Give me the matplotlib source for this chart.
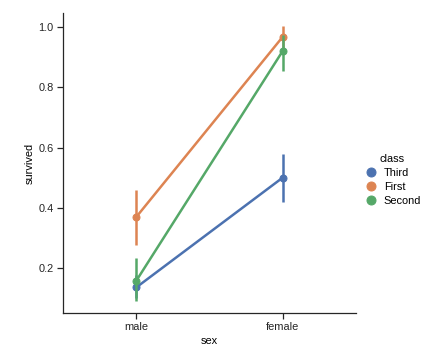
import matplotlib
matplotlib.use("Agg")
import matplotlib.pyplot as plt
from matplotlib.lines import Line2D
import numpy as np

# titanic survival rate by sex and class, with 95% CI
sexes = ["male", "female"]
classes = ["Third", "First", "Second"]
colors = ["#4C72B0", "#DD8452", "#55A868"]
means = {
    "Third": [0.135, 0.500],
    "First": [0.369, 0.968],
    "Second": [0.157, 0.921],
}
ci_low = {
    "Third": [0.100, 0.420],
    "First": [0.276, 0.925],
    "Second": [0.090, 0.855],
}
ci_high = {
    "Third": [0.175, 0.580],
    "First": [0.458, 1.003],
    "Second": [0.234, 0.975],
}

plt.rcParams["font.family"] = ["Liberation Sans", "DejaVu Sans"]
plt.rcParams["font.size"] = 11

fig = plt.figure(figsize=(436 / 72, 360 / 72), dpi=72)
ax = fig.add_axes([63 / 436, 1 - 313 / 360, 293 / 436, 300 / 360])

x = np.arange(len(sexes))
for cls, col in zip(classes, colors):
    m = np.array(means[cls])
    lo = np.array(ci_low[cls])
    hi = np.array(ci_high[cls])
    ax.plot(x, m, color=col, lw=2.5, marker="o", ms=7, zorder=3)
    ax.vlines(x, lo, hi, color=col, lw=2.5, zorder=3)

ax.set_xticks(x)
ax.set_xticklabels(sexes)
ax.set_xlim(-0.5, 1.5)
ax.set_ylim(0.05, 1.047)
ax.set_yticks([0.2, 0.4, 0.6, 0.8, 1.0])
ax.set_xlabel("sex", fontsize=11)
ax.set_ylabel("survived", fontsize=11)
ax.spines["top"].set_visible(False)
ax.spines["right"].set_visible(False)
for s in ["left", "bottom"]:
    ax.spines[s].set_linewidth(1.25)
    ax.spines[s].set_color("#262626")
ax.tick_params(direction="out", length=6, width=1.25, colors="#262626", labelsize=11)

handles = [Line2D([], [], color=c, marker="o", ls="", ms=9) for c in colors]
fig.legend(handles, classes, title="class", loc="center left",
           bbox_to_anchor=(352 / 436, 1 - 180 / 360), frameon=False,
           fontsize=11, title_fontsize=11, handletextpad=0.4,
           handlelength=1.6, labelspacing=0.35)

fig.savefig("out.png", dpi=72)
